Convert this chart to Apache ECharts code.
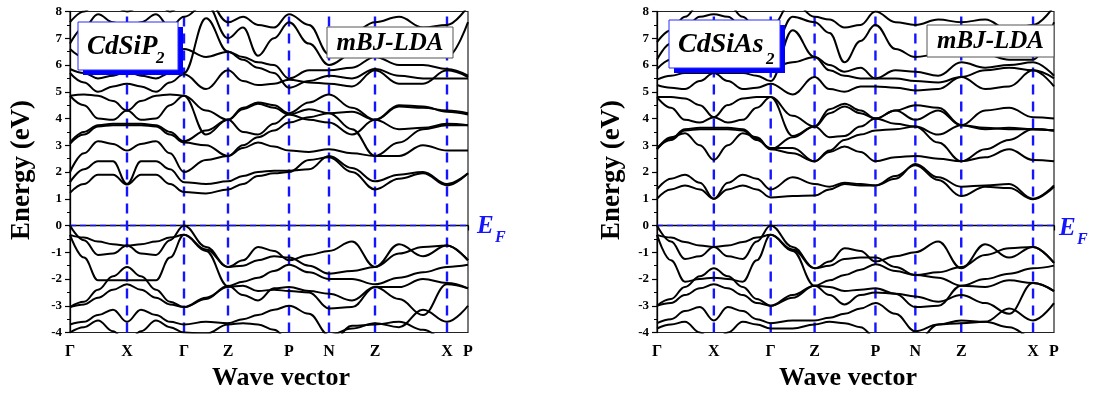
<!DOCTYPE html>
<html>
<head>
<meta charset="utf-8">
<script src="https://cdn.jsdelivr.net/npm/echarts@6/dist/echarts.min.js"></script>
<style>
html,body{margin:0;padding:0;background:#fff;}
#chart{width:1095px;height:397px;}
</style>
</head>
<body>
<div id="chart"></div>
<script>
// ---- k-path (path distance units) ----
const kPos = [0, 14, 28, 43, 57, 71, 86, 100, 114, 136, 158, 173, 188, 204, 219, 239, 259, 282, 305, 329, 353, 377, 398];
const kTickPos = [0, 57, 114, 158, 219, 259, 305, 377, 398];
const kTickLabels = ['Γ', 'X', 'Γ', 'Z', 'P', 'N', 'Z', 'X', 'P'];
const energyTicks = [-4, -3, -2, -1, 0, 1, 2, 3, 4, 5, 6, 7, 8];

// ---- CdSiP2 bands (eV) sampled at kPos ----
const cdsip2Valence = [
  [0, -0.55, -1.1, -1.05, -0.75, -1.05, -1.1, -0.55, 0, -0.8, -1.55, -1.3, -0.8, -0.95, -1.3, -1.1, -0.95, -0.6, -1.55, -0.7, -1.15, -0.75, -1.3],
  [-0.35, -0.45, -0.6, -0.7, -0.75, -0.7, -0.6, -0.45, -0.35, -0.95, -2.27, -2.1, -1.95, -1.7, -1.47, -1.75, -2.0, -2.0, -2.2, -1.95, -1.75, -1.55, -1.47],
  [-0.35, -1.2, -2.05, -2.05, -2.05, -2.05, -2.05, -1.2, -0.35, -0.9, -1.55, -1.5, -1.3, -1.15, -1.2, -1.5, -1.8, -1.7, -1.55, -1.05, -0.8, -0.75, -1.3],
  [-3.05, -2.85, -2.4, -1.9, -1.55, -1.9, -2.4, -2.85, -3.05, -2.75, -2.25, -2.6, -2.8, -2.35, -2.3, -2.45, -2.55, -2.8, -2.3, -2.75, -3.35, -2.2, -2.35],
  [-3.05, -2.95, -2.7, -2.4, -2.2, -2.4, -2.7, -2.95, -3.05, -2.7, -2.3, -2.25, -2.45, -2.4, -2.45, -2.5, -3.1, -3.05, -2.3, -2.3, -2.0, -2.15, -2.35],
  [-3.7, -3.6, -3.35, -3.15, -3.6, -3.15, -3.35, -3.6, -3.7, -3.6, -3.65, -3.5, -3.35, -3.15, -3.0, -3.3, -4.1, -3.85, -3.65, -3.8, -3.15, -3.6, -3.0],
  [-4.0, -3.8, -3.55, -3.95, -4.4, -3.95, -3.55, -3.8, -4.0, -4.05, -3.7, -3.65, -3.7, -3.9, -4.3, -4.7, -4.5, -3.75, -3.7, -3.6, -3.9, -4.3, -4.5]
];
const cdsip2Conduction = [
  [1.22, 1.55, 1.9, 1.9, 1.53, 1.9, 1.9, 1.55, 1.25, 1.2, 1.35, 1.55, 1.85, 1.95, 2.0, 2.45, 2.55, 2.0, 1.35, 1.75, 1.95, 1.5, 1.95],
  [1.62, 2.1, 2.4, 2.4, 1.55, 2.4, 2.4, 2.1, 1.62, 1.55, 1.65, 1.85, 2.0, 2.05, 2.05, 2.1, 2.6, 2.15, 1.65, 1.9, 2.0, 1.55, 1.95],
  [2.0, 2.7, 3.15, 3.05, 2.8, 3.05, 3.15, 2.7, 2.0, 2.45, 2.6, 2.9, 3.1, 2.95, 2.8, 2.75, 2.85, 2.7, 2.6, 2.6, 3.0, 2.8, 2.8],
  [3.05, 3.4, 3.7, 3.75, 3.75, 3.75, 3.7, 3.4, 3.1, 3.0, 2.6, 3.0, 3.3, 3.55, 3.85, 4.05, 4.2, 3.6, 2.6, 3.1, 3.6, 3.75, 3.75],
  [3.1, 3.5, 3.75, 3.8, 3.8, 3.8, 3.75, 3.5, 3.15, 3.55, 3.95, 3.5, 3.4, 3.8, 4.15, 3.95, 3.85, 3.4, 3.95, 3.6, 3.65, 3.8, 3.75],
  [4.85, 4.5, 4.0, 3.95, 4.3, 4.65, 4.85, 4.9, 4.85, 3.4, 3.95, 4.35, 4.55, 4.4, 4.15, 4.35, 4.2, 4.25, 3.95, 4.5, 4.45, 4.25, 4.15],
  [4.85, 4.9, 4.85, 4.65, 4.3, 3.95, 4.0, 4.5, 4.85, 4.3, 3.95, 4.4, 4.6, 4.5, 4.2, 4.6, 4.9, 4.4, 3.95, 4.45, 4.4, 4.3, 4.2],
  [5.7, 5.35, 5.0, 5.2, 5.3, 5.2, 5.0, 5.35, 5.65, 5.1, 5.8, 5.4, 5.25, 5.3, 5.45, 5.35, 5.3, 5.2, 5.8, 5.3, 5.3, 5.8, 5.55],
  [5.85, 5.7, 5.5, 5.6, 5.75, 5.6, 5.5, 5.7, 5.7, 7.75, 6.5, 6.2, 5.9, 5.7, 5.15, 5.4, 5.6, 5.5, 5.85, 5.6, 5.5, 5.5, 5.5],
  [6.6, 6.3, 6.3, 6.8, 7.3, 6.8, 6.3, 6.3, 6.6, 6.3, 6.5, 6.3, 6.1, 6.0, 5.5, 5.8, 5.8, 5.9, 6.3, 6.0, 6.0, 5.85, 5.6],
  [6.8, 7.4, 7.9, 7.6, 7.4, 7.6, 7.9, 7.4, 7.8, 8.3, 7.0, 7.4, 6.35, 7.0, 7.6, 6.8, 6.0, 6.4, 6.4, 6.6, 6.3, 6.3, 7.6],
  [7.6, 8.0, 8.4, 8.2, 8.0, 8.2, 8.4, 8.0, 8.3, 8.5, 7.6, 7.8, 7.5, 7.4, 7.9, 7.5, 6.4, 7.2, 7.6, 7.8, 7.4, 7.5, 8.2]
];

// ---- CdSiAs2 bands (eV) sampled at kPos ----
const cdsias2Valence = [
  [0, -0.6, -1.25, -1.15, -0.8, -1.15, -1.25, -0.6, 0, -0.8, -1.6, -1.35, -0.85, -0.95, -1.35, -1.15, -1.0, -0.6, -1.6, -0.7, -1.2, -0.8, -1.4],
  [-0.35, -0.45, -0.62, -0.75, -0.8, -0.75, -0.62, -0.45, -0.35, -0.95, -2.25, -2.05, -1.85, -1.65, -1.45, -1.7, -1.85, -1.95, -2.25, -2.0, -1.8, -1.6, -1.5],
  [-0.35, -1.3, -2.1, -2.0, -1.95, -2.0, -2.1, -1.3, -0.35, -0.9, -1.6, -1.5, -1.25, -1.2, -1.2, -1.55, -1.85, -1.75, -1.55, -1.1, -0.85, -0.8, -1.4],
  [-3.0, -2.75, -2.3, -1.9, -1.6, -1.9, -2.3, -2.75, -3.0, -2.7, -2.25, -2.6, -2.95, -2.6, -2.5, -2.55, -2.65, -2.85, -2.6, -2.9, -3.3, -2.15, -2.45],
  [-3.0, -2.9, -2.6, -2.35, -2.2, -2.35, -2.6, -2.9, -3.0, -2.6, -2.25, -2.3, -2.45, -2.4, -2.35, -2.55, -3.05, -3.0, -2.25, -2.3, -2.05, -2.15, -2.45],
  [-3.65, -3.5, -3.2, -3.05, -3.55, -3.05, -3.2, -3.5, -3.65, -3.55, -3.55, -3.45, -3.3, -3.1, -2.9, -3.3, -3.95, -3.7, -3.55, -3.6, -3.1, -3.55, -2.9],
  [-3.85, -3.7, -3.6, -4.0, -4.4, -4.0, -3.6, -3.7, -3.85, -3.85, -3.7, -3.6, -3.65, -3.8, -4.2, -4.6, -4.4, -3.7, -3.65, -3.6, -3.8, -4.2, -4.4]
];
const cdsias2Conduction = [
  [1.0, 1.35, 1.5, 1.35, 1.0, 1.35, 1.5, 1.35, 1.05, 1.1, 1.12, 1.35, 1.55, 1.5, 1.5, 1.85, 2.25, 1.7, 1.1, 1.45, 1.4, 0.98, 1.45],
  [1.35, 1.75, 1.9, 1.6, 1.0, 1.6, 1.9, 1.75, 1.35, 1.8, 1.55, 1.45, 1.6, 1.55, 1.5, 1.75, 2.3, 1.8, 1.45, 1.5, 1.55, 1.0, 1.5],
  [2.85, 3.3, 3.45, 3.0, 2.45, 3.0, 3.45, 3.3, 2.85, 2.7, 2.4, 2.75, 2.95, 2.75, 2.4, 2.55, 2.6, 2.5, 2.4, 2.55, 2.85, 2.45, 2.4],
  [2.9, 3.2, 3.55, 3.6, 3.6, 3.6, 3.55, 3.2, 2.9, 2.9, 2.4, 2.8, 3.2, 3.4, 3.55, 3.6, 3.7, 3.1, 2.4, 2.85, 3.2, 3.6, 3.55],
  [2.85, 3.25, 3.6, 3.65, 3.65, 3.65, 3.6, 3.25, 2.85, 3.3, 3.7, 3.3, 3.35, 3.7, 4.0, 3.8, 3.7, 3.4, 3.75, 3.6, 3.65, 3.6, 3.55],
  [4.8, 4.4, 3.95, 3.85, 4.05, 4.5, 4.75, 4.8, 4.8, 3.35, 3.7, 4.2, 4.45, 4.2, 4.0, 4.3, 4.5, 4.4, 3.75, 4.3, 4.4, 4.05, 4.0],
  [4.8, 4.8, 4.75, 4.5, 4.05, 3.85, 3.95, 4.4, 4.8, 4.1, 3.7, 4.35, 4.55, 4.3, 4.0, 4.3, 3.95, 4.3, 3.75, 3.65, 3.6, 3.6, 3.55],
  [5.25, 5.15, 5.1, 5.4, 5.7, 5.4, 5.1, 5.15, 5.3, 4.9, 5.55, 5.1, 5.0, 5.2, 5.2, 5.15, 5.05, 5.1, 5.55, 5.1, 5.2, 5.8, 5.2],
  [5.45, 5.6, 5.7, 5.7, 5.7, 5.7, 5.7, 5.6, 5.4, 7.3, 6.3, 5.8, 5.6, 5.5, 5.5, 5.5, 5.4, 5.35, 5.55, 5.8, 5.9, 5.8, 5.5],
  [5.85, 6.2, 6.6, 7.2, 7.6, 7.2, 6.6, 6.2, 5.9, 6.1, 6.3, 6.0, 5.75, 5.9, 5.5, 5.8, 5.75, 5.6, 6.1, 5.9, 6.0, 6.1, 5.6],
  [6.2, 6.8, 7.4, 7.8, 7.9, 7.8, 7.4, 6.8, 6.3, 7.8, 7.6, 7.2, 6.1, 6.9, 7.5, 6.6, 6.3, 6.4, 6.6, 6.4, 6.2, 6.2, 7.6],
  [6.85, 7.3, 7.8, 8.3, 8.3, 8.3, 7.8, 7.3, 7.4, 8.4, 7.8, 7.7, 7.4, 7.5, 8.0, 7.6, 7.5, 7.7, 7.6, 7.7, 7.3, 7.5, 8.2]
];

const panelTitles = ['CdSiP', 'CdSiAs'];
const methodLabel = 'mBJ-LDA';
const xAxisTitle = 'Wave vector';
const yAxisTitle = 'Energy (eV)';
const fermiLevel = 0;

// ---------------- build chart ----------------
const SERIF = '"Liberation Serif","Times New Roman",serif';
const BLUE = '#1414ff';
const grids = [
  { left: 70, top: 11.5, width: 398, height: 321 },
  { left: 657, top: 11.5, width: 397, height: 321 }
];
const xMax = kTickPos[kTickPos.length - 1];

function xAxisFor(i) {
  return {
    gridIndex: i, type: 'value', min: 0, max: xMax,
    splitLine: { show: false },
    axisLine: { lineStyle: { color: '#000', width: 1.3 } },
    axisTick: { show: true, inside: false, length: 5, customValues: kTickPos, lineStyle: { color: '#000', width: 1.2 } },
    axisLabel: {
      customValues: kTickPos, margin: 11,
      formatter: function (v) { const j = kTickPos.indexOf(v); return j >= 0 ? kTickLabels[j] : ''; },
      fontFamily: SERIF, fontWeight: 'bold', fontSize: 16, color: '#000'
    }
  };
}
function yAxisFor(i) {
  return {
    gridIndex: i, type: 'value', min: energyTicks[0], max: energyTicks[energyTicks.length - 1], interval: 1,
    splitLine: { show: false },
    axisLine: { show: true, lineStyle: { color: '#000', width: 1.3 } },
    axisTick: { show: true, inside: false, length: 5, lineStyle: { color: '#000', width: 1.2 } },
    minorTick: { show: true, splitNumber: 2, length: 3, lineStyle: { color: '#000', width: 1 } },
    axisLabel: { margin: 8, fontFamily: SERIF, fontWeight: 'bold', fontSize: 13, color: '#000' }
  };
}

const series = [];
function addPanel(i, valence, conduction) {
  // vertical dashed lines at interior high-symmetry points
  kTickPos.slice(1, -1).forEach(function (k) {
    series.push({
      type: 'line', xAxisIndex: i, yAxisIndex: i, silent: true, showSymbol: false, z: 1,
      data: [[k, energyTicks[0]], [k, energyTicks[energyTicks.length - 1]]],
      lineStyle: { color: BLUE, width: 2.4, type: [10, 7] }
    });
  });
  // Fermi level
  series.push({
    type: 'line', xAxisIndex: i, yAxisIndex: i, silent: true, showSymbol: false, z: 1,
    data: [[0, fermiLevel], [xMax, fermiLevel]],
    lineStyle: { color: BLUE, width: 1.3, type: [6, 4] }
  });
  valence.concat(conduction).forEach(function (band) {
    series.push({
      type: 'line', xAxisIndex: i, yAxisIndex: i, silent: true, showSymbol: false, z: 3,
      smooth: 0.4, smoothMonotone: 'x', clip: true,
      data: kPos.map(function (k, j) { return [k, band[j]]; }),
      lineStyle: { color: '#000', width: 2 }
    });
  });
}
addPanel(0, cdsip2Valence, cdsip2Conduction);
addPanel(1, cdsias2Valence, cdsias2Conduction);

function titleBox(x, y, w, h, main, sub, mainSize, subDx, subDy) {
  return [
    { type: 'rect', z: 100, shape: { x: x + 5, y: y + 5, width: w, height: h }, style: { fill: '#0000ff' } },
    { type: 'rect', z: 101, shape: { x: x, y: y, width: w, height: h }, style: { fill: '#fff', stroke: '#2a2aff', lineWidth: 1 } },
    { type: 'text', z: 102, x: x + 9, y: y + h / 2 + 1, style: { text: main, font: 'italic bold ' + mainSize + 'px ' + SERIF, fill: '#000', verticalAlign: 'middle', align: 'left' } },
    { type: 'text', z: 102, x: x + subDx, y: y + subDy, style: { text: sub, font: 'italic bold 17px ' + SERIF, fill: '#000', verticalAlign: 'middle', align: 'left' } }
  ];
}
function methodBox(x, y, w, h) {
  return [
    { type: 'rect', z: 100, shape: { x: x, y: y, width: w, height: h }, style: { fill: '#fff', stroke: '#555', lineWidth: 1 } },
    { type: 'text', z: 102, x: x + w / 2, y: y + h / 2 + 1, style: { text: methodLabel, font: 'italic bold 25px ' + SERIF, fill: '#000', verticalAlign: 'middle', align: 'center' } }
  ];
}
function fermiLabel(x, y) {
  return [
    { type: 'text', z: 102, x: x, y: y, style: { text: 'E', font: 'italic bold 25px ' + SERIF, fill: BLUE, verticalAlign: 'middle', align: 'left' } },
    { type: 'text', z: 102, x: x + 18, y: y + 11, style: { text: 'F', font: 'italic bold 16px ' + SERIF, fill: BLUE, verticalAlign: 'middle', align: 'left' } }
  ];
}
function axisTitles(cx, xTitleX) {
  return [
    { type: 'text', z: 102, x: cx, y: 170, rotation: Math.PI / 2, style: { text: yAxisTitle, font: 'bold 27px ' + SERIF, fill: '#000', verticalAlign: 'middle', align: 'center' } },
    { type: 'text', z: 102, x: xTitleX, y: 378, style: { text: xAxisTitle, font: 'bold 26px ' + SERIF, fill: '#000', verticalAlign: 'middle', align: 'center' } }
  ];
}

const graphics = []
  .concat(titleBox(78, 22, 100, 48, panelTitles[0] , '2', 27, 78, 37))
  .concat(methodBox(327, 27, 126, 31))
  .concat(titleBox(669, 20, 111, 48, panelTitles[1], '2', 28, 97, 40))
  .concat(methodBox(927, 25, 127, 32))
  .concat(fermiLabel(477, 227))
  .concat(fermiLabel(1059, 229))
  .concat(axisTitles(22, 281))
  .concat(axisTitles(612, 848));

const chart = echarts.init(document.getElementById('chart'), null, { renderer: 'canvas' });
chart.setOption({
  animation: false,
  backgroundColor: '#fff',
  grid: grids.map(function (g) { return Object.assign({ show: true, borderColor: '#222', borderWidth: 1.2, backgroundColor: 'transparent', containLabel: false }, g); }),
  xAxis: [xAxisFor(0), xAxisFor(1)],
  yAxis: [yAxisFor(0), yAxisFor(1)],
  series: series,
  graphic: { elements: graphics }
});
</script>
</body>
</html>
